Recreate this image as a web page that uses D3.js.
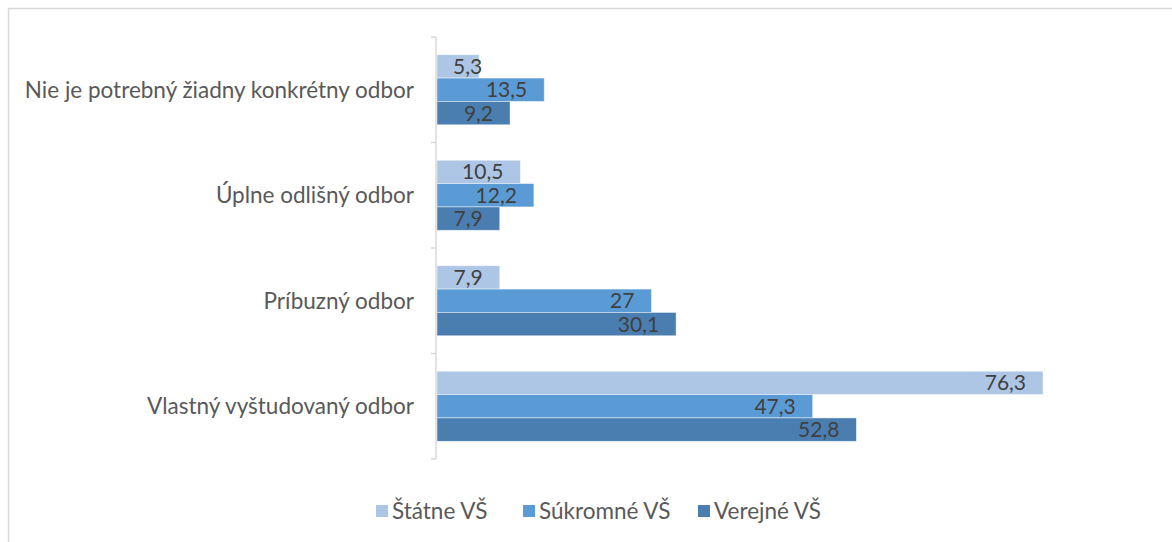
<html>
<head>
<meta charset="utf-8">
<script src="https://cdnjs.cloudflare.com/ajax/libs/d3/7.8.5/d3.min.js"></script>
<style>
  body { margin: 0; background: #fff; }
  text { font-family: Lato, "Open Sans", sans-serif; }
</style>
</head>
<body>
<div id="chartContainer"></div>
<script>
  // categories, top to bottom
  var categories = [
    "Nie je potrebný žiadny konkrétny odbor",
    "Úplne odlišný odbor",
    "Príbuzný odbor",
    "Vlastný vyštudovaný odbor"
  ];
  var seriesNames = ["Štátne VŠ", "Súkromné VŠ", "Verejné VŠ"];
  var statne   = [5.3, 10.5, 7.9, 76.3];
  var sukromne = [13.5, 12.2, 27, 47.3];
  var verejne  = [9.2, 7.9, 30.1, 52.8];
  var colors = ["#aec6e6", "#5b9bd5", "#4a7eb0"];

  var width = 1172, height = 542;
  var svg = d3.select("#chartContainer").append("svg")
      .attr("width", width)
      .attr("height", height);

  // chart border (runs off right/bottom edge)
  svg.append("rect")
      .attr("x", 8.5).attr("y", 8.5)
      .attr("width", width).attr("height", height)
      .style("fill", "none")
      .style("stroke", "#d9d9d9")
      .style("stroke-width", 1.5);

  var plot = { left: 437, top: 37, bottom: 459 };

  var x = d3.scaleLinear().domain([0, 90]).range([plot.left, plot.left + 90 * 7.943]);
  var y = d3.scaleBand().domain(categories)
      .range([plot.top, plot.bottom])
      .paddingInner(0.336).paddingOuter(0.168);
  var ySub = d3.scaleBand().domain(seriesNames).range([0, y.bandwidth()]);

  var rows = [];
  categories.forEach(function (c, i) {
    [statne, sukromne, verejne].forEach(function (arr, j) {
      rows.push({ cat: c, series: seriesNames[j], value: arr[i], color: colors[j] });
    });
  });

  // bars
  svg.append("g").selectAll("rect")
      .data(rows)
      .enter()
      .append("rect")
      .attr("x", x(0))
      .attr("y", function (d) { return y(d.cat) + ySub(d.series); })
      .attr("width", function (d) { return x(d.value) - x(0); })
      .attr("height", ySub.bandwidth())
      .style("fill", function (d) { return d.color; })
      .style("stroke", "#ffffff")
      .style("stroke-opacity", 0.6)
      .style("stroke-width", 0.75);

  // data labels, inside end like Excel (box clamps at the axis)
  svg.append("g").selectAll("text")
      .data(rows)
      .enter()
      .append("text")
      .attr("y", function (d) { return y(d.cat) + ySub(d.series) + ySub.bandwidth() / 2; })
      .attr("dy", "0.36em")
      .style("text-anchor", "end")
      .style("font-size", "21px")
      .style("fill", "#404040")
      .text(function (d) { return String(d.value).replace(".", ","); })
      .attr("x", function (d) {
        var w = this.getComputedTextLength();
        return Math.max(x(d.value) - 17, x(0) + 16 + w);
      });

  // vertical category axis
  var axis = svg.append("g");
  axis.append("line")
      .attr("x1", plot.left - 1).attr("x2", plot.left - 1)
      .attr("y1", plot.top).attr("y2", plot.bottom)
      .style("stroke", "#d9d9d9").style("stroke-width", 1.5);
  var tickYs = categories.map(function (c) { return y(c) - y.step() * y.paddingInner() / 2; });
  tickYs.push(plot.bottom);
  axis.selectAll(".tick")
      .data(tickYs)
      .enter()
      .append("line")
      .attr("x1", plot.left - 6).attr("x2", plot.left - 1)
      .attr("y1", function (d) { return d; }).attr("y2", function (d) { return d; })
      .style("stroke", "#d9d9d9").style("stroke-width", 1.5);

  axis.selectAll(".cat")
      .data(categories)
      .enter()
      .append("text")
      .attr("x", 414)
      .attr("y", function (d) { return y(d) + y.bandwidth() / 2; })
      .attr("dy", "0.36em")
      .style("text-anchor", "end")
      .style("font-size", "22.5px")
      .style("fill", "#595959")
      .text(function (d) { return d; });

  // legend
  var legendX = [376, 523, 698];
  var legend = svg.append("g").selectAll("g")
      .data(seriesNames)
      .enter()
      .append("g")
      .attr("transform", function (d, i) { return "translate(" + legendX[i] + ",511)"; });
  legend.append("rect")
      .attr("x", 0).attr("y", -6)
      .attr("width", 12).attr("height", 12)
      .style("fill", function (d, i) { return colors[i]; });
  legend.append("text")
      .attr("x", 16)
      .attr("dy", "0.36em")
      .style("font-size", "22.5px")
      .style("fill", "#595959")
      .text(function (d) { return d; });
</script>
</body>
</html>
